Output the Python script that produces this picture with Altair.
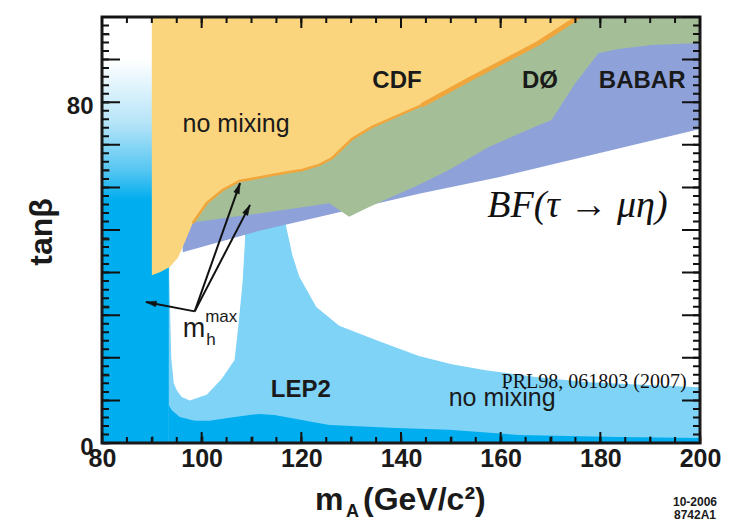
import math
import altair as alt
import pandas as pd

W, H = 598, 426

# ---------------- data ----------------
# CDF (yellow) lower boundary, filled up to tanb = 100
cdf_x = [90.0, 91.6, 93.6, 95.2, 96.2, 98.2, 101.0, 104.2, 107.6, 111.0, 114.2, 117.6,
         120.2, 123.6, 126.2, 130.2, 134.2, 144.2, 154.2, 164.2, 167.6, 175.6]
cdf_lo = [39.4, 40.1, 41.3, 43.4, 46.0, 51.6, 56.3, 59.4, 61.5, 62.2, 62.9, 63.6,
          64.1, 65.3, 66.9, 71.4, 74.2, 79.3, 85.7, 91.8, 93.9, 100.0]
# DØ (green) lower boundary
d0_x = [98.8, 112.2, 125.6, 129.6, 133.6, 143.6, 149.6, 157.6, 167.6, 170.2, 175.0,
        179.6, 183.6, 190.2, 200.0]
d0_lo = [51.9, 54.0, 56.3, 53.1, 55.4, 60.6, 64.1, 69.5, 74.6, 75.8, 84.5,
         91.5, 92.5, 93.4, 93.9]
# BABAR (blue) lower boundary
babar_x = [96.2, 111.6, 143.6, 159.6, 200.0]
babar_lo = [44.8, 49.8, 58.5, 62.4, 73.7]
# LEP2 no mixing (light blue) upper boundary
lep_up_x = [93.4, 116.8, 117.0, 118.2, 119.6, 123.0, 127.6, 135.6, 143.6, 150.2, 157.0,
            167.0, 177.0, 186.2, 200.0]
lep_up = [52.0, 52.0, 50.5, 44.1, 39.0, 31.9, 27.5, 23.9, 20.4, 18.5, 17.1,
          15.5, 14.3, 13.8, 13.1]
# LEP2 m_h^max (dark blue) upper boundary
lep_lo_x = [93.4, 94.0, 95.6, 98.6, 101.6, 105.6, 109.6, 111.6, 114.6, 117.6, 125.6,
            139.0, 149.6, 163.6, 183.6, 200.0]
lep_lo = [8.9, 7.7, 6.1, 5.2, 5.2, 5.9, 6.6, 6.8, 6.6, 5.9, 4.2,
          3.5, 3.1, 1.9, 1.4, 1.2]
# allowed hole in the m_h^max scenario
hole_x = [93.5, 93.9, 94.4, 95.0, 96.0, 97.6, 101.0, 104.0, 106.6, 107.4, 108.2, 108.7]
hole_lo = [39.0, 20.0, 14.0, 12.4, 10.8, 10.0, 11.3, 15.0, 19.5, 28.0, 37.6, 47.7]

# arrows for the m_h^max label
arrow_x0, arrow_y0 = 98.6, 30.9
arrow_tip_x = [107.7, 109.7, 88.8]
arrow_tip_y = [61.0, 55.9, 33.1]

# tick values
x_labels = [80, 100, 120, 140, 160, 180, 200]
x_minor = [80, 85, 90, 95, 100, 105, 110, 115, 120, 125, 130, 135, 140, 145, 150, 155,
           160, 165, 170, 175, 180, 185, 190, 195, 200]
y_labels = [0, 20, 40, 60, 80, 100]
y_minor = list(range(0, 101, 2))
y_mid = [0, 10, 20, 30, 40, 50, 60, 70, 80, 90, 100]

# colours
DARK = "#00ADEE"
LIGHT = "#7FD3F7"
YELLOW = "#FAD57D"
ORANGE = "#F0A63A"
GREEN = "#A4BF98"
BLUE = "#8EA2D9"
INK = "#1a1a1a"

# ---------------- scales / axes ----------------
XMIN, XMAX, YMIN, YMAX = 80.0, 200.0, 0.0, 100.0
xs = alt.Scale(domain=[XMIN, XMAX], nice=False, zero=False)
ys = alt.Scale(domain=[YMIN, YMAX], nice=False, zero=False)
# axes carry inward ticks: the axis line is moved 7px inside the plot (negative offset)
xaxis = alt.Axis(values=x_minor, format="d", ticks=True, tickSize=7, tickWidth=1.8,
                 tickColor=INK, offset=-7, domain=False, grid=False, zindex=1,
                 labelExpr="datum.value % 20 == 0 ? datum.label : ''", labelOverlap=False,
                 labelFont="Liberation Sans", labelFontWeight="bold", labelFontSize=25,
                 labelColor=INK, labelPadding=3, labelFlush=False, title=None)
yaxis = alt.Axis(values=y_minor, format="d", ticks=True, tickSize=7, tickWidth=1.8,
                 tickColor=INK, offset=-7, domain=False, grid=False, zindex=1,
                 labelExpr="datum.value % 20 == 0 ? datum.label : ''", labelOverlap=False,
                 labelFont="Liberation Sans", labelFontWeight="bold", labelFontSize=24,
                 labelColor=INK, labelPadding=9, labelFlush=False, labelOffset=4, title=None)
X = alt.X("x:Q", scale=xs, axis=xaxis)
Y = alt.Y("y:Q", scale=ys, axis=yaxis)
sx, sy = W / (XMAX - XMIN), H / (YMAX - YMIN)   # pixels per data unit

one = pd.DataFrame({"a": [0]})


def band(xv, yv, color):
    df = pd.DataFrame({"x": xv, "y": yv})
    return alt.Chart(df).mark_area(color=color, opacity=1, interpolate="linear").encode(
        x=X, y=Y, y2=alt.datum(YMAX))


def floor_band(xv, yv, color):
    df = pd.DataFrame({"x": xv, "y": yv})
    return alt.Chart(df).mark_area(color=color, opacity=1, interpolate="linear").encode(
        x=X, y=Y, y2=alt.datum(YMIN))


# gradient strip on the left (m_h^max excluded region fading to white)
grad = alt.Chart(one).mark_rect(
    color=alt.Gradient(
        gradient="linear",
        stops=[alt.GradientStop(color="#ffffff", offset=0),
               alt.GradientStop(color="#ffffff", offset=0.1),
               alt.GradientStop(color="#b5e4f8", offset=0.25),
               alt.GradientStop(color="#55c6f2", offset=0.36),
               alt.GradientStop(color=DARK, offset=0.43),
               alt.GradientStop(color=DARK, offset=1)],
        x1=0, x2=0, y1=0, y2=1)
).encode(x=alt.datum(80, scale=xs), x2=alt.datum(95), y=alt.datum(0, scale=ys), y2=alt.datum(100))

light = floor_band(lep_up_x, lep_up, LIGHT)
dark = floor_band(lep_lo_x, lep_lo, DARK)
hole = alt.Chart(pd.DataFrame({"x": hole_x, "y": hole_lo})).mark_area(
    color="#ffffff", opacity=1).encode(x=X, y=Y, y2=alt.datum(52))
babar = band(babar_x, babar_lo, BLUE)
d0 = band(d0_x, d0_lo, GREEN)
cdf = band(cdf_x, cdf_lo, YELLOW)
edge_df = pd.DataFrame({"x": cdf_x[5:], "y": cdf_lo[5:]})
edge = alt.Chart(edge_df).mark_line(color=ORANGE, strokeWidth=2.5, clip=True).encode(x=X, y=Y)
edge2 = alt.Chart(edge_df[edge_df.x >= 144]).mark_line(
    color=ORANGE, strokeWidth=4.5, clip=True).encode(x=X, y=Y)

# frame
frame = alt.Chart(one).mark_rect(filled=False, stroke=INK, strokeWidth=3).encode(
    x=alt.value(0), x2=alt.value(W), y=alt.value(0), y2=alt.value(H))

# ---- line segments: arrow shafts + inward ticks (tick lengths in pixels -> data units)
seg_rows = []
for tx, ty in zip(arrow_tip_x, arrow_tip_y):
    seg_rows.append({"x": arrow_x0, "y": arrow_y0, "x2": tx, "y2": ty})
for vals, length in ((x_minor, 6), (x_labels, 11)):
    d = length / sy
    for v in vals:
        seg_rows.append({"x": v + 0.001, "y": YMIN + 0.001, "x2": v, "y2": YMIN + d})
        seg_rows.append({"x": v + 0.001, "y": YMAX - 0.001, "x2": v, "y2": YMAX - d})
for vals, length in ((y_minor, 7), (y_mid, 18)):
    d = length / sx
    for v in vals:
        seg_rows.append({"x": XMIN + 0.001, "y": v + 0.001, "x2": XMIN + d, "y2": v})
        seg_rows.append({"x": XMAX - 0.001, "y": v + 0.001, "x2": XMAX - d, "y2": v})
seg_df = pd.DataFrame(seg_rows)
segments = alt.Chart(seg_df).mark_rule(color="#111111", strokeWidth=2).encode(
    x=X, y=Y, x2="x2:Q", y2="y2:Q")

heads = []
for tx, ty in zip(arrow_tip_x, arrow_tip_y):
    ang = (math.degrees(math.atan2((tx - arrow_x0) * sx, (ty - arrow_y0) * sy)) + 360) % 360
    hdf = pd.DataFrame({"x": [tx], "y": [ty]})
    heads.append(alt.Chart(hdf).mark_point(
        shape="M0,0L0.6,2.2L-0.6,2.2Z", filled=True, fill="#111111", stroke="#111111",
        strokeWidth=0.5, opacity=1, size=90, angle=round(ang, 1)
    ).encode(x=X, y=Y))


def label(texts, xv, yv, **kw):
    df = pd.DataFrame({"x": xv, "y": yv, "t": texts})
    kw.setdefault("color", INK)
    kw.setdefault("baseline", "alphabetic")
    return alt.Chart(df).mark_text(**kw).encode(x=X, y=Y, text="t:N")


groups = label(["CDF", "DØ", "BABAR", "LEP2"], [139.2, 167.9, 188.4, 119.9],
               [83.4, 83.4, 83.4, 10.8], font="Liberation Sans", fontWeight="bold",
               fontSize=24, align="center")
nomix = label(["no mixing", "no mixing"], [106.9, 160.3], [73.1, 8.6],
              font="Liberation Sans", fontSize=25, align="center")
mh_m = label(["m"], [96.2], [24.9], font="Liberation Sans", fontSize=27, align="left")
mh_h = label(["h"], [100.9], [23.0], font="Liberation Sans", fontSize=17, align="left")
mh_max = label(["max"], [100.7], [28.3], font="Liberation Sans", fontSize=17, align="left")
bf = label(["BF(τ → μη)"], [175.4], [53.0], font="Liberation Serif", fontStyle="italic",
           fontSize=38, align="center", color="#111111")
prl = label(["PRL98, 061803 (2007)"], [197.3], [12.8], font="Liberation Serif",
            fontSize=20, align="right", color="#111111")


def ptext(t, px, py, **kw):
    kw.setdefault("color", INK)
    kw.setdefault("baseline", "alphabetic")
    return alt.Chart(one).mark_text(**kw).encode(
        x=alt.value(px), y=alt.value(py), text=alt.value(t))


titles = [
    ptext("tanβ", -60, 215, font="Liberation Sans", fontWeight="bold", fontSize=32,
          angle=270, align="center", baseline="middle"),
    ptext("m", 213, 493, font="Liberation Sans", fontWeight="bold", fontSize=32, align="left"),
    ptext("A", 244, 500, font="Liberation Sans", fontWeight="bold", fontSize=18, align="left"),
    ptext("(GeV/c²)", 261, 493, font="Liberation Sans", fontWeight="bold", fontSize=32,
          align="left"),
    ptext("10-2006", 593, 489, font="Liberation Sans", fontWeight="bold", fontSize=12,
          align="center"),
    ptext("8742A1", 593, 502, font="Liberation Sans", fontWeight="bold", fontSize=12,
          align="center"),
]

chart = alt.layer(
    grad, light, dark, hole, babar, d0, cdf, edge, edge2,
    frame, segments, *heads,
    groups, nomix, mh_m, mh_h, mh_max, bf, prl, *titles
).properties(
    width=W, height=H,
    padding={"left": 94, "top": 9, "right": 30, "bottom": 78},
    autosize=alt.AutoSizeParams(type="none"),
    background="white",
).configure_view(stroke=None)

chart.save("out.html", embed_options={"renderer": "svg", "actions": False})
